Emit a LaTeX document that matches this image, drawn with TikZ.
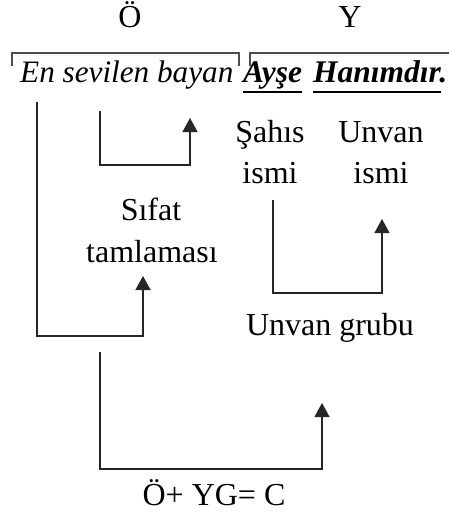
\documentclass[tikz,border=0pt]{standalone}
\usepackage{fontspec}
\setmainfont{Liberation Serif}
\usetikzlibrary{arrows.meta,calc}
\tikzset{
  lbl/.style={inner sep=0pt, anchor=base, font=\fontsize{32}{36}\selectfont},
  ilbl/.style={inner sep=0pt, anchor=base, font=\fontsize{31.2}{36}\selectfont\itshape},
  blbl/.style={inner sep=0pt, anchor=base, font=\fontsize{31.5}{36}\selectfont\bfseries\itshape},
  conn/.style={draw=black!85, line width=1.3pt},
  arr/.style={conn, -{Triangle[length=14pt,width=15pt]}},
  brk/.style={draw=black!70, line width=1.3pt},
  uline/.style={line width=2pt}
}
\begin{document}
\begin{tikzpicture}[x=1pt,y=-1pt]
\useasboundingbox (0,0) rectangle (449,516);
% top letters
\node[lbl] (O) at (130,28) {Ö};
\node[lbl] (Y) at (350,28) {Y};
% sentence
\node[ilbl, anchor=base west] (en) at (20,83) {En sevilen bayan};
\node[blbl, anchor=base west] (ayse) at (243,83) {Ayşe};
\node[blbl, anchor=base west] (hanim) at (313,83) {Hanımdır.};
\draw[uline] ($(ayse.base west)+(0,9)$) -- ($(ayse.base east)+(0,9)$);
\draw[uline] ($(hanim.base west)+(0,9)$) -- ($(hanim.base east)+(-6,9)$);
% brackets
\coordinate (b1a) at (12,66);
\coordinate (b1b) at (12,53);
\coordinate (b1c) at (239,53);
\coordinate (b1d) at (239,66);
\draw[brk] (b1a) -- (b1b) -- (b1c) -- (b1d);
\coordinate (b2a) at (250,66);
\coordinate (b2b) at (250,53);
\coordinate (b2c) at (449,53);
\draw[brk] (b2a) -- (b2b) -- (b2c);
% labels
\node[lbl] (sahis) at (270,142) {Şahıs};
\node[lbl] (ismi1) at (270,183) {ismi};
\node[lbl] (unvan) at (381,142) {Unvan};
\node[lbl] (ismi2) at (381,183) {ismi};
\node[lbl] (sifat) at (151,220) {Sıfat};
\node[lbl] (tamlamasi) at (152,262) {tamlaması};
\node[lbl] (ugrubu) at (330,335) {Unvan grubu};
\node[lbl] (formula) at (214,505) {Ö+ YG= C};
% connectors
\coordinate (c1s) at (37,102);
\coordinate (c1m) at (37,336);
\coordinate (c1n) at (143,336);
\coordinate (c1t) at (143,276);
\draw[arr] (c1s) -- (c1m) -- (c1n) -- (c1t);
\coordinate (c2s) at (100,111);
\coordinate (c2m) at (100,165);
\coordinate (c2n) at (190,165);
\coordinate (c2t) at (190,118);
\draw[arr] (c2s) -- (c2m) -- (c2n) -- (c2t);
\coordinate (c3s) at (273,200);
\coordinate (c3m) at (273,293);
\coordinate (c3n) at (382,293);
\coordinate (c3t) at (382,219);
\draw[arr] (c3s) -- (c3m) -- (c3n) -- (c3t);
\coordinate (c4s) at (100,352);
\coordinate (c4m) at (100,469);
\coordinate (c4n) at (322,469);
\coordinate (c4t) at (322,403);
\draw[arr] (c4s) -- (c4m) -- (c4n) -- (c4t);
\end{tikzpicture}
\end{document}
